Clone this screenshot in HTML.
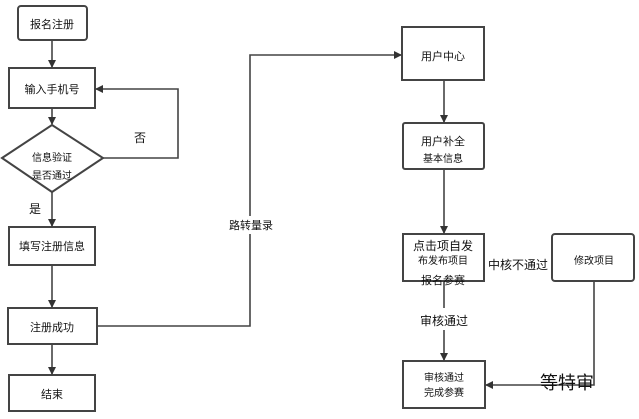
<!DOCTYPE html>
<html><head><meta charset="utf-8"><style>
body{margin:0;background:#fff;width:639px;height:414px;overflow:hidden;font-family:"Liberation Sans","Noto Sans CJK SC",sans-serif}
svg text{font-family:"Liberation Sans","Noto Sans CJK SC",sans-serif;fill:#111}
</style></head><body>
<svg width="639" height="414" viewBox="0 0 639 414">
<defs><marker id="a" markerWidth="8" markerHeight="8" refX="7" refY="4" orient="auto" markerUnits="userSpaceOnUse"><path d="M0,0 L8,4 L0,8 z" fill="#333"/></marker></defs>
<g fill="none" stroke="#444" stroke-width="2">
<rect x="18" y="6" width="69" height="34" rx="3"/>
<rect x="9" y="68" width="86" height="40"/>
<polygon points="2,158 52,125 103,158 52,192"/>
<rect x="9" y="227" width="86" height="38"/>
<rect x="8" y="308" width="89" height="36"/>
<rect x="9" y="375" width="86" height="36"/>
<rect x="402" y="27" width="82" height="53"/>
<rect x="403" y="123" width="81" height="46" rx="2"/>
<rect x="403" y="234" width="81" height="47"/>
<rect x="552" y="234" width="82" height="47" rx="3"/>
<rect x="403" y="361" width="82" height="47"/>
<g stroke-width="1.6">
<line x1="52" y1="40" x2="52" y2="67" marker-end="url(#a)"/>
<line x1="52" y1="108" x2="52" y2="124" marker-end="url(#a)"/>
<polyline points="103,158 178,158 178,89 96,89" marker-end="url(#a)"/>
<line x1="52" y1="192" x2="52" y2="226" marker-end="url(#a)"/>
<line x1="52" y1="265" x2="52" y2="307" marker-end="url(#a)"/>
<line x1="52" y1="344" x2="52" y2="374" marker-end="url(#a)"/>
<polyline points="97,326 250,326 250,55 401,55" marker-end="url(#a)"/>
<line x1="444" y1="80" x2="444" y2="122" marker-end="url(#a)"/>
<line x1="444" y1="169" x2="444" y2="233" marker-end="url(#a)"/>
<line x1="444" y1="281" x2="444" y2="360" marker-end="url(#a)"/>
<polyline points="594,281 594,385 486,385" marker-end="url(#a)"/>
</g></g>
<rect x="242" y="216" width="30" height="18" fill="#fff"/>
<rect x="415" y="308" width="60" height="22" fill="#fff"/>
<g font-size="11" text-anchor="middle">
<text x="52" y="28" fill="#555">报名注册</text>
<text x="52" y="93">输入手机号</text>
<text x="52" y="161" font-size="10">信息验证</text>
<text x="52" y="179" font-size="10">是否通过</text>
<text x="52" y="250">填写注册信息</text>
<text x="52" y="331">注册成功</text>
<text x="52" y="398">结束</text>
<text x="140" y="142" font-size="12">否</text>
<text x="35" y="213" font-size="12">是</text>
<text x="251" y="229">路转量录</text>
<text x="443" y="60">用户中心</text>
<text x="443" y="145">用户补全</text>
<text x="443" y="162" fill="#555" font-size="10">基本信息</text>
<text x="443" y="250" font-size="12">点击项自发</text>
<text x="443" y="264" fill="#555" font-size="10">布发布项目</text>
<text x="443" y="284" font-size="11">报名参赛</text>
<text x="444" y="325" font-size="12">审核通过</text>
<text x="518" y="269" fill="#444" font-size="12">中核不通过</text>
<text x="594" y="264" fill="#555" font-size="10">修改项目</text>
<text x="444" y="381" fill="#555" font-size="10">审核通过</text>
<text x="444" y="396" fill="#555" font-size="10">完成参赛</text>
<text x="567" y="389" fill="#333" font-size="18">等特审</text>
</g>
</svg>
</body></html>
